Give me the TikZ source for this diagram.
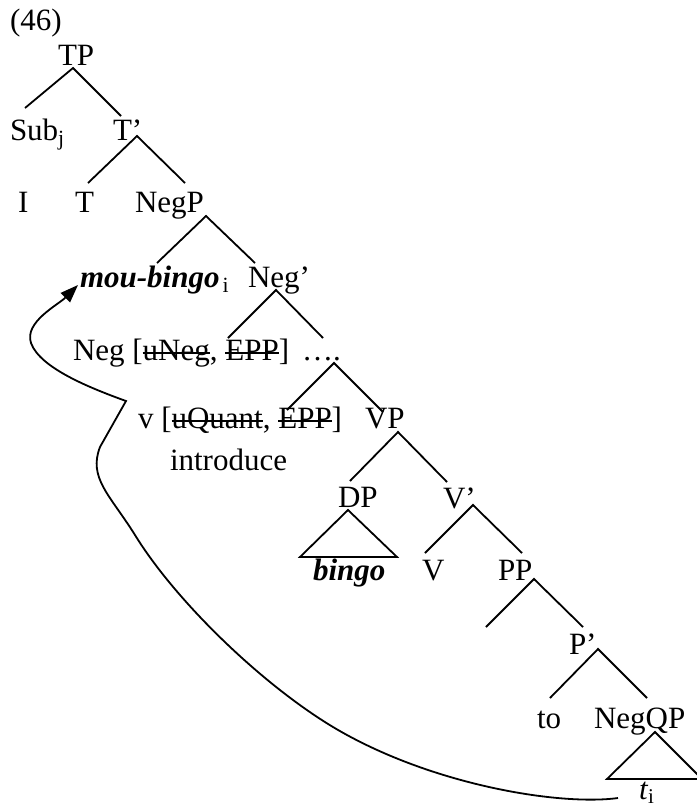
\documentclass[tikz,border=0pt]{standalone}
\usepackage{fontspec}
\setmainfont{Liberation Serif}
\usetikzlibrary{arrows.meta}
\newsavebox{\strkbox}
\newcommand{\strk}[1]{\sbox{\strkbox}{#1}\rlap{\rule[6.5pt]{\wd\strkbox}{1.6pt}}\usebox{\strkbox}}
\tikzset{
  lbl/.style={anchor=base west, inner sep=0pt, outer sep=0pt},
  branch/.style={line width=1.8pt},
  mv/.style={line width=1.8pt, -{Triangle[length=18pt,width=13pt]}},
}
\newcommand{\bi}[1]{\textbf{\textit{#1}}}
\begin{document}
\begin{tikzpicture}[x=1pt,y=-1pt,font=\fontsize{31}{37}\selectfont]
\useasboundingbox (0,0) rectangle (697,807);
% labels
\node[lbl] (ex) at (10,30) {(46)};
\node[lbl] (TP) at (58,65) {TP};
\node[lbl] (Sub) at (10,140) {Sub\textsubscript{j}};
\node[lbl] (Tbar) at (113,140) {T’};
\node[lbl] (I) at (18,212) {I};
\node[lbl] (T) at (75,212) {T};
\node[lbl] (NegP) at (135,212) {NegP};
\node[lbl] (mou) at (80,287) {\bi{mou-bingo}\kern3pt\textsubscript{i}};
\node[lbl] (Negbar) at (248,287) {Neg’};
\node[lbl] (Neg) at (73,360) {Neg [\strk{uNeg}, \strk{EPP}]\ \,….};
\node[lbl] (v) at (138,428) {v [\strk{uQuant}, \strk{EPP}]};
\node[lbl] (VP) at (365,428) {VP};
\node[lbl] (intro) at (170,470) {introduce};
\node[lbl] (DP) at (338,507) {DP};
\node[lbl] (Vbar) at (443,508) {V’};
\node[lbl] (bingo) at (313,580) {\bi{bingo}};
\node[lbl] (V) at (422,580) {V};
\node[lbl] (PP) at (498,580) {PP};
\node[lbl] (Pbar) at (569,654) {P’};
\node[lbl] (to) at (537,728) {to};
\node[lbl] (NegQP) at (594,728) {NegQP};
\node[lbl] (ti) at (639,799) {\textit{t}\raisebox{-4pt}{\fontsize{21}{21}\selectfont i}};
% branch points
\coordinate (TPa) at (73,68);
\coordinate (TPl) at (25,108);
\coordinate (TPr) at (121,116);
\coordinate (Ta) at (137,136);
\coordinate (Tl) at (88,183);
\coordinate (Tr) at (185,183);
\coordinate (NPa) at (206,216);
\coordinate (NPl) at (157,263);
\coordinate (NPr) at (255,263);
\coordinate (Nba) at (276,290);
\coordinate (Nbl) at (228,338);
\coordinate (Nbr) at (323,338);
\coordinate (Da) at (334,363);
\coordinate (Dl) at (287,410);
\coordinate (Dr) at (383,412);
\coordinate (VPa) at (398,432);
\coordinate (VPl) at (350,481);
\coordinate (VPr) at (447,482);
\coordinate (Vba) at (473,505);
\coordinate (Vbl) at (425,553);
\coordinate (Vbr) at (522,553);
\coordinate (PPa) at (534,579);
\coordinate (PPl) at (486,627);
\coordinate (PPr) at (583,627);
\coordinate (Pba) at (598,649);
\coordinate (Pbl) at (550,698);
\coordinate (Pbr) at (647,698);
\draw[branch] (TPl) -- (TPa) -- (TPr);
\draw[branch] (Tl) -- (Ta) -- (Tr);
\draw[branch] (NPl) -- (NPa) -- (NPr);
\draw[branch] (Nbl) -- (Nba) -- (Nbr);
\draw[branch] (Dl) -- (Da) -- (Dr);
\draw[branch] (VPl) -- (VPa) -- (VPr);
\draw[branch] (Vbl) -- (Vba) -- (Vbr);
\draw[branch] (PPl) -- (PPa) -- (PPr);
\draw[branch] (Pbl) -- (Pba) -- (Pbr);
% triangles
\draw[branch, line join=miter] (348,510) -- (300,557) -- (397,557) -- cycle;
\draw[branch, line join=miter] (655,732) -- (607,779) -- (702,779) -- cycle;
% movement arrow
\draw[mv] ([xshift=-21pt,yshift=1pt]ti.base west)
  .. controls (560,806) and (430,785) .. (333,727)
  .. controls (260,683) and (175,600) .. (135,535)
  .. controls (110,495) and (88,478) .. (100,447)
  -- (126,401)
  .. controls (90,388) and (40,368) .. (31,343)
  .. controls (24,322) and (58,305) .. ([xshift=-2pt,yshift=2pt]mou.base west);
\end{tikzpicture}
\end{document}
